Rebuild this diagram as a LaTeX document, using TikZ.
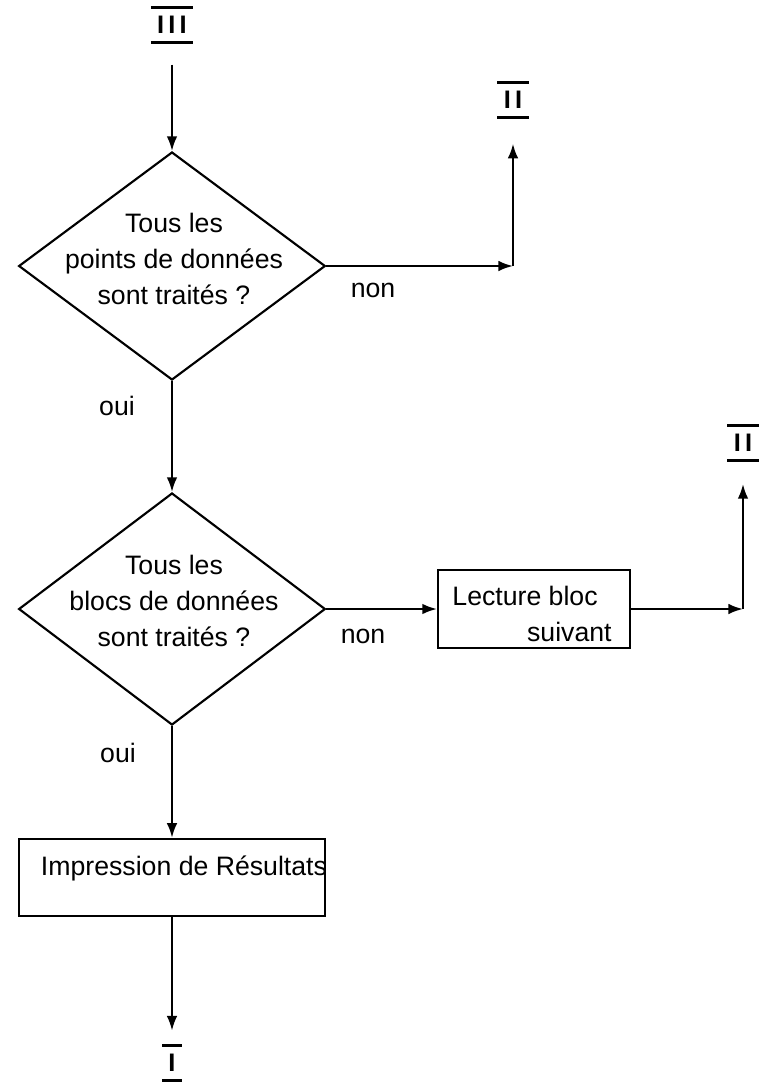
\documentclass[tikz,border=0pt]{standalone}
\usepackage{fontspec}
\setmainfont{Liberation Sans}
\usetikzlibrary{arrows.meta,shapes.geometric}
\begin{document}
\begin{tikzpicture}[x=0.75pt,y=-0.75pt,
  line width=1.6pt,
  arr/.style={-{Latex[length=11pt,width=8pt]}},
  txt/.style={font=\fontsize{20}{27}\selectfont, inner sep=0pt},
  lbl/.style={font=\fontsize{20}{24}\selectfont, inner sep=0pt},
  procbox/.style={draw, rectangle, inner sep=0pt},
  decision/.style={draw, diamond, inner sep=0pt, minimum width=230pt},
  roman/.style={font=\fontsize{19}{19}\selectfont\bfseries, inner xsep=4pt, inner ysep=0pt, minimum height=24pt},
  bar/.style={line width=2.2pt},
]
\useasboundingbox (0,0) rectangle (760,1082);
\fill[white] (0,0) rectangle (760,1082);

% labels
\node[roman] (t3) at (172,25) {I\,I\,I};
\node[roman] (t2a) at (513,100) {I\,I};
\node[roman] (t2b) at (743,443) {I\,I};
\node[roman, minimum height=25pt] (t1) at (172,1063) {I};
\foreach \n in {t3,t2a,t2b,t1}{
  \draw[bar] (\n.north west) -- (\n.north east);
  \draw[bar] (\n.south west) -- (\n.south east);
}

% decisions
\node[decision, minimum height=171pt] (d1) at (172,266) {};
\node[txt, align=center] (d1t) at (174,259) {Tous les\\points de données\\sont traités ?};
\node[decision, minimum height=174pt] (d2) at (172,609) {};
\node[txt, align=center] (d2t) at (174,601) {Tous les\\blocs de données\\sont traités ?};

% boxes
\node[procbox, minimum width=144pt, minimum height=58pt] (lect) at (534,609) {};
\node[txt, align=left] (lectt) at (532,614) {Lecture bloc\\\hspace*{56pt}suivant};
\node[procbox, minimum width=229pt, minimum height=58pt] (imp) at (172,877.5) {};
\node[txt] (impt) at (184,868) {Impression de Résultats};

% corners
\coordinate (c1) at (513,266);
\coordinate (c2) at (743,609);

% connectors
\draw[arr, shorten <=17pt] (t3) -- (d1.north);
\draw[arr] (d1.east) -- (c1);
\draw[arr, shorten >=20pt] (c1) -- (t2a.south);
\draw[arr] (d1.south) -- (d2.north);
\draw[arr] (d2.east) -- (lect.west);
\draw[arr] (lect.east) -- (c2);
\draw[arr, shorten >=18pt] (c2) -- (t2b.south);
\draw[arr] (d2.south) -- (imp.north);
\draw[arr, shorten >=11pt] (imp.south) -- (t1.north);

% branch labels
\node[lbl] (n1) at (373,290) {non};
\node[lbl] (n2) at (363,636) {non};
\node[lbl] (o1) at (117,406) {oui};
\node[lbl] (o2) at (118,753) {oui};
\end{tikzpicture}
\end{document}
